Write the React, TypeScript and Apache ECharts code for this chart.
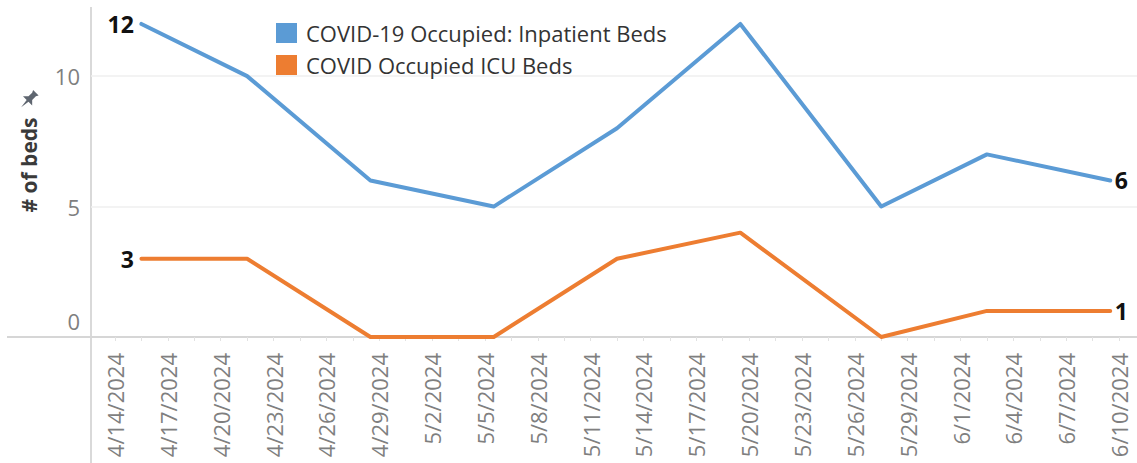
import React, { useEffect, useRef } from 'react';
import * as echarts from 'echarts';

// ---- data ----
const weekDates = ['2024-04-15', '2024-04-21', '2024-04-28', '2024-05-05', '2024-05-12', '2024-05-19', '2024-05-27', '2024-06-02', '2024-06-09'];
const inpatientBeds = [12, 10, 6, 5, 8, 12, 5, 7, 6];
const icuBeds = [3, 3, 0, 0, 3, 4, 0, 1, 1];
const tickLabels = ['4/14/2024', '4/17/2024', '4/20/2024', '4/23/2024', '4/26/2024', '4/29/2024', '5/2/2024', '5/5/2024', '5/8/2024', '5/11/2024', '5/14/2024', '5/17/2024', '5/20/2024', '5/23/2024', '5/26/2024', '5/29/2024', '6/1/2024', '6/4/2024', '6/7/2024', '6/10/2024'];
const yTickValues = [0, 5, 10];
const seriesNames = ['COVID-19 Occupied: Inpatient Beds', 'COVID Occupied ICU Beds'];
const seriesColors = ['#5b9bd5', '#ed7d31'];

const DAY = 86400000;
const BASE = Date.UTC(2024, 3, 14);
const isoToDay = (s: string) => {
  const [y, m, d] = s.split('-').map(Number);
  return (Date.UTC(y, m - 1, d) - BASE) / DAY;
};
const mdyToDay = (s: string) => {
  const [m, d, y] = s.split('/').map(Number);
  return (Date.UTC(y, m - 1, d) - BASE) / DAY;
};
const tickDays = tickLabels.map(mdyToDay);
const minorTickDays: number[] = [];
tickDays.forEach((d, i) => {
  minorTickDays.push(d);
  if (i < tickDays.length - 1) minorTickDays.push((d + tickDays[i + 1]) / 2);
});

echarts.graphic.registerShape(
  'pin',
  echarts.graphic.extendPath('M3,0 L9,0 L8,2 L8,6 L11,9 L7,9 L6,16 L5,9 L1,9 L4,6 L4,2 Z', {})
);

const FONT = 'Open Sans';

function buildData(values: number[]) {
  const last = values.length - 1;
  return values.map((v, i) => {
    const item: any = { value: [isoToDay(weekDates[i]) + 0.5, v] };
    if (i === 0) item.label = { show: true, position: 'left', distance: 7 };
    if (i === last) item.label = { show: true, position: 'right', distance: 4 };
    return item;
  });
}

export default function App() {
  const ref = useRef<HTMLDivElement>(null);
  useEffect(() => {
    if (!ref.current) return;
    const chart = echarts.init(ref.current, undefined, { renderer: 'svg' });
    const mkSeries = (name: string, color: string, values: number[]) => ({
      name,
      type: 'line',
      data: buildData(values),
      showSymbol: true,
      symbol: 'circle',
      symbolSize: 1,
      itemStyle: { color },
      lineStyle: { color, width: 4, cap: 'round', join: 'round' },
      label: {
        show: false,
        formatter: (p: any) => String(p.value[1]),
        fontSize: 23,
        fontWeight: 'bold',
        color: '#111',
        fontFamily: FONT,
      },
      emphasis: { disabled: true },
    });
    chart.setOption({
      animation: false,
      textStyle: { fontFamily: FONT },
      grid: { left: 91, top: 7, right: 0, bottom: 126, containLabel: false },
      legend: {
        orient: 'vertical',
        left: 271,
        top: 17,
        itemWidth: 21,
        itemHeight: 20,
        itemGap: 10,
        icon: 'rect',
        selectedMode: false,
        textStyle: { fontSize: 22, color: '#333', fontFamily: FONT, lineHeight: 20, padding: [0, 0, 0, 4] },
        data: seriesNames.map((n, i) => ({ name: n, itemStyle: { color: seriesColors[i] } })),
      },
      xAxis: {
        type: 'value',
        min: -1.3626,
        max: 58.02,
        axisLine: { show: true, lineStyle: { color: '#d6d6d6', width: 2 } },
        axisTick: {
          show: true,
          customValues: minorTickDays,
          length: 4,
          lineStyle: { color: '#e2e2e2', width: 1 },
        },
        axisLabel: {
          customValues: tickDays,
          rotate: 90,
          margin: 16,
          fontSize: 22,
          color: '#7f7f7f',
          fontFamily: FONT,
          formatter: (v: number) => {
            const idx = tickDays.findIndex((t) => Math.abs(t - v) < 1e-6);
            return idx >= 0 ? tickLabels[idx] : '';
          },
        },
        splitLine: { show: false },
      },
      yAxis: {
        type: 'value',
        min: 0,
        max: 12.65,
        interval: 5,
        axisLine: { show: false },
        axisTick: { show: false },
        axisLabel: {
          customValues: yTickValues,
          margin: 11,
          fontSize: 22,
          color: '#7f7f7f',
          fontFamily: FONT,
          formatter: (v: number) => (v === 0 ? '{z|0}' : yTickValues.includes(v) ? String(v) : ''),
          rich: { z: { fontSize: 22, color: '#7f7f7f', fontFamily: FONT, padding: [0, 0, 33, 0] } },
        },
        splitLine: {
          show: true,
          showMinLine: false,
          showMaxLine: false,
          lineStyle: { color: '#efefef', width: 1.5 },
        },
      },
      graphic: [
        { type: 'line', z: 0, shape: { x1: 7, y1: 337, x2: 91, y2: 337 }, style: { stroke: '#d6d6d6', lineWidth: 2 } },
        { type: 'line', z: 0, shape: { x1: 91, y1: 7, x2: 91, y2: 463 }, style: { stroke: '#d9d9d9', lineWidth: 2 } },
        {
          type: 'text',
          x: 29,
          y: 165,
          rotation: Math.PI / 2,
          style: {
            text: '# of beds',
            fontSize: 21,
            fontWeight: 'bold',
            fontFamily: FONT,
            fill: '#3a3a3a',
            textAlign: 'center',
            textVerticalAlign: 'middle',
          },
        },
        {
          type: 'pin',
          x: 22.5,
          y: 92,
          originX: 6,
          originY: 8,
          scaleX: 1.3,
          scaleY: 1.3,
          rotation: -Math.PI / 4,
          style: { fill: '#5f6670' },
        },
      ],
      series: [
        mkSeries(seriesNames[0], seriesColors[0], inpatientBeds),
        mkSeries(seriesNames[1], seriesColors[1], icuBeds),
      ],
    });
    return () => chart.dispose();
  }, []);
  return <div ref={ref} style={{ position: 'absolute', left: 0, top: 0, width: 1137, height: 463 }} />;
}
